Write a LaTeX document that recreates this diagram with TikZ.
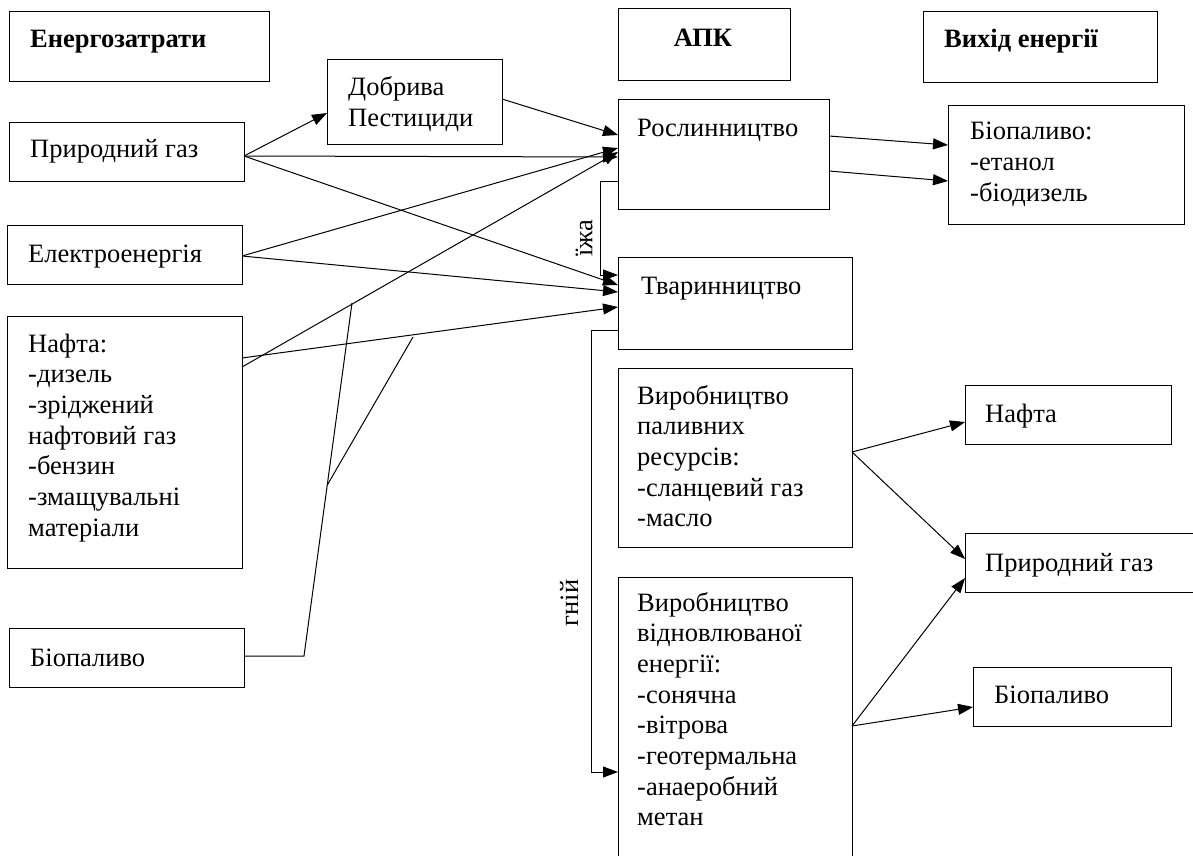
\documentclass[tikz,border=0pt]{standalone}
\usepackage{fontspec}
\setmainfont{Liberation Serif}
\usetikzlibrary{arrows.meta,calc}
\tikzset{
  box/.style={draw, line width=1pt, rectangle, inner sep=0pt, outer sep=0pt, anchor=north west},
  txt/.style={inner sep=0pt, anchor=base west, font=\fontsize{26.5}{30.7}\selectfont},
  head/.style={txt, font=\fontsize{26.5}{30.7}\selectfont\bfseries},
  conn/.style={line width=1pt, -{Triangle[length=15pt,width=11pt]}},
  plainline/.style={line width=1pt},
}
\begin{document}
\begin{tikzpicture}[x=1pt,y=-1pt]
\useasboundingbox (0,0) rectangle (1193,855);
% boxes
\node[box, minimum width=260pt, minimum height=70pt] (energ) at (9,11) {};
\node[box, minimum width=175pt, minimum height=85pt] (dobr) at (327,59) {};
\node[box, minimum width=235pt, minimum height=59pt] (pgaz) at (9,122) {};
\node[box, minimum width=235pt, minimum height=59pt] (elek) at (7,225) {};
\node[box, minimum width=235pt, minimum height=252pt] (nafta) at (7,316) {};
\node[box, minimum width=235pt, minimum height=59pt] (biol) at (9,628) {};
\node[box, minimum width=172pt, minimum height=72pt] (apk) at (618,8) {};
\node[box, minimum width=234pt, minimum height=71pt] (vyh) at (923,11) {};
\node[box, minimum width=211pt, minimum height=110pt] (rosl) at (618,99) {};
\node[box, minimum width=234pt, minimum height=92pt] (tvar) at (618,257) {};
\node[box, minimum width=234pt, minimum height=179pt] (vpal) at (618,368) {};
\node[box, minimum width=234pt, minimum height=300pt] (vvid) at (618,577) {};
\node[box, minimum width=236pt, minimum height=119pt] (biot) at (948,105) {};
\node[box, minimum width=206pt, minimum height=59pt] (naftr) at (965,385) {};
\node[box, minimum width=260pt, minimum height=59pt] (pgazr) at (965,533) {};
\node[box, minimum width=198pt, minimum height=59pt] (bior) at (973,667) {};
% texts
\node[head] (energ-t) at (30,47) {Енергозатрати};
\node[txt] (dobr-t1) at (348,95) {Добрива};
\node[txt] (dobr-t2) at (348,126) {Пестициди};
\node[txt] (pgaz-t) at (30,157) {Природний газ};
\node[txt] (elek-t) at (28,262) {Електроенергія};
\foreach \t [count=\i] in {Нафта:,-дизель,-зріджений,нафтовий газ,-бензин,-змащувальні,матеріали}
  \node[txt] (nafta-t\i) at (28,{352+(\i-1)*30.7}) {\t};
\node[txt] (biol-t) at (30,666) {Біопаливо};
\node[head, anchor=base] (apk-t) at (703,46) {АПК};
\node[head] (vyh-t) at (944,47) {Вихід енергії};
\node[txt] (rosl-t) at (637,136) {Рослинництво};
\node[txt] (tvar-t) at (641,294) {Тваринництво};
\foreach \t [count=\i] in {Виробництво,паливних,ресурсів:,-сланцевий газ,-масло}
  \node[txt] (vpal-t\i) at (637,{404+(\i-1)*30.7}) {\t};
\foreach \t [count=\i] in {Виробництво,відновлюваної,енергії:,-сонячна,-вітрова,-геотермальна,-анаеробний,метан}
  \node[txt] (vvid-t\i) at (637,{611+(\i-1)*30.7}) {\t};
\foreach \t [count=\i] in {Біопаливо:,-етанол,-біодизель}
  \node[txt] (biot-t\i) at (970,{139+(\i-1)*31}) {\t};
\node[txt] (naftr-t) at (985,422) {Нафта};
\node[txt] (pgazr-t) at (985,571) {Природний газ};
\node[txt] (bior-t) at (994,703) {Біопаливо};
% connectors into Рослинництво / Тваринництво
\draw[conn] ([yshift=-34pt]pgaz.north east) -- ([yshift=-54pt]dobr.north west);
\draw[conn] ([yshift=-34pt]pgaz.north east) -- ([yshift=-58pt]rosl.north west);
\draw[conn] ([yshift=-34pt]pgaz.north east) -- ([yshift=-28pt]tvar.north west);
\draw[conn] ([yshift=-40pt]dobr.north east) -- ([yshift=-36pt]rosl.north west);
\draw[conn] ([yshift=-31pt]elek.north east) -- ([yshift=-49pt]rosl.north west);
\draw[conn] ([yshift=-31pt]elek.north east) -- ([yshift=-35pt]tvar.north west);
\draw[conn] ([yshift=-51pt]nafta.north east) -- ([yshift=-53pt]rosl.north west);
\draw[conn] ([yshift=-42pt]nafta.north east) -- ([yshift=-50pt]tvar.north west);
% їжа and гній
\draw[conn] ([yshift=-82pt]rosl.north west) -- ++(-18pt,0pt) |- ([yshift=-18pt]tvar.north west);
\draw[conn] ([yshift=-73pt]tvar.north west) -- ++(-27pt,0pt) |- ([yshift=-195pt]vvid.north west);
\node[txt, anchor=center, rotate=90] (izha) at (584,238) {їжа};
\node[txt, anchor=center, rotate=90] (gnij) at (569,603) {гній};
% Біопаливо lines (free ends)
\coordinate (j1) at (352,303);
\coordinate (j3) at (413,337);
\draw[plainline] ([yshift=-28pt]biol.north east) -- ++(60pt,0pt) coordinate (bc) -- (j1);
\draw[plainline] ($(bc)!0.484!(j1)$) -- (j3);
% outputs
\draw[conn] ([yshift=-37pt]rosl.north east) -- ([yshift=-40pt]biot.north west);
\draw[conn] ([yshift=-72pt]rosl.north east) -- ([yshift=-76pt]biot.north west);
\draw[conn] ([yshift=-84pt]vpal.north east) -- ([yshift=-37pt]naftr.north west);
\draw[conn] ([yshift=-84pt]vpal.north east) -- ([yshift=-26pt]pgazr.north west);
\draw[conn] ([yshift=-149pt]vvid.north east) -- ([yshift=-45pt]pgazr.north west);
\draw[conn] ([yshift=-149pt]vvid.north east) -- ([yshift=-40pt]bior.north west);
\end{tikzpicture}
\end{document}
